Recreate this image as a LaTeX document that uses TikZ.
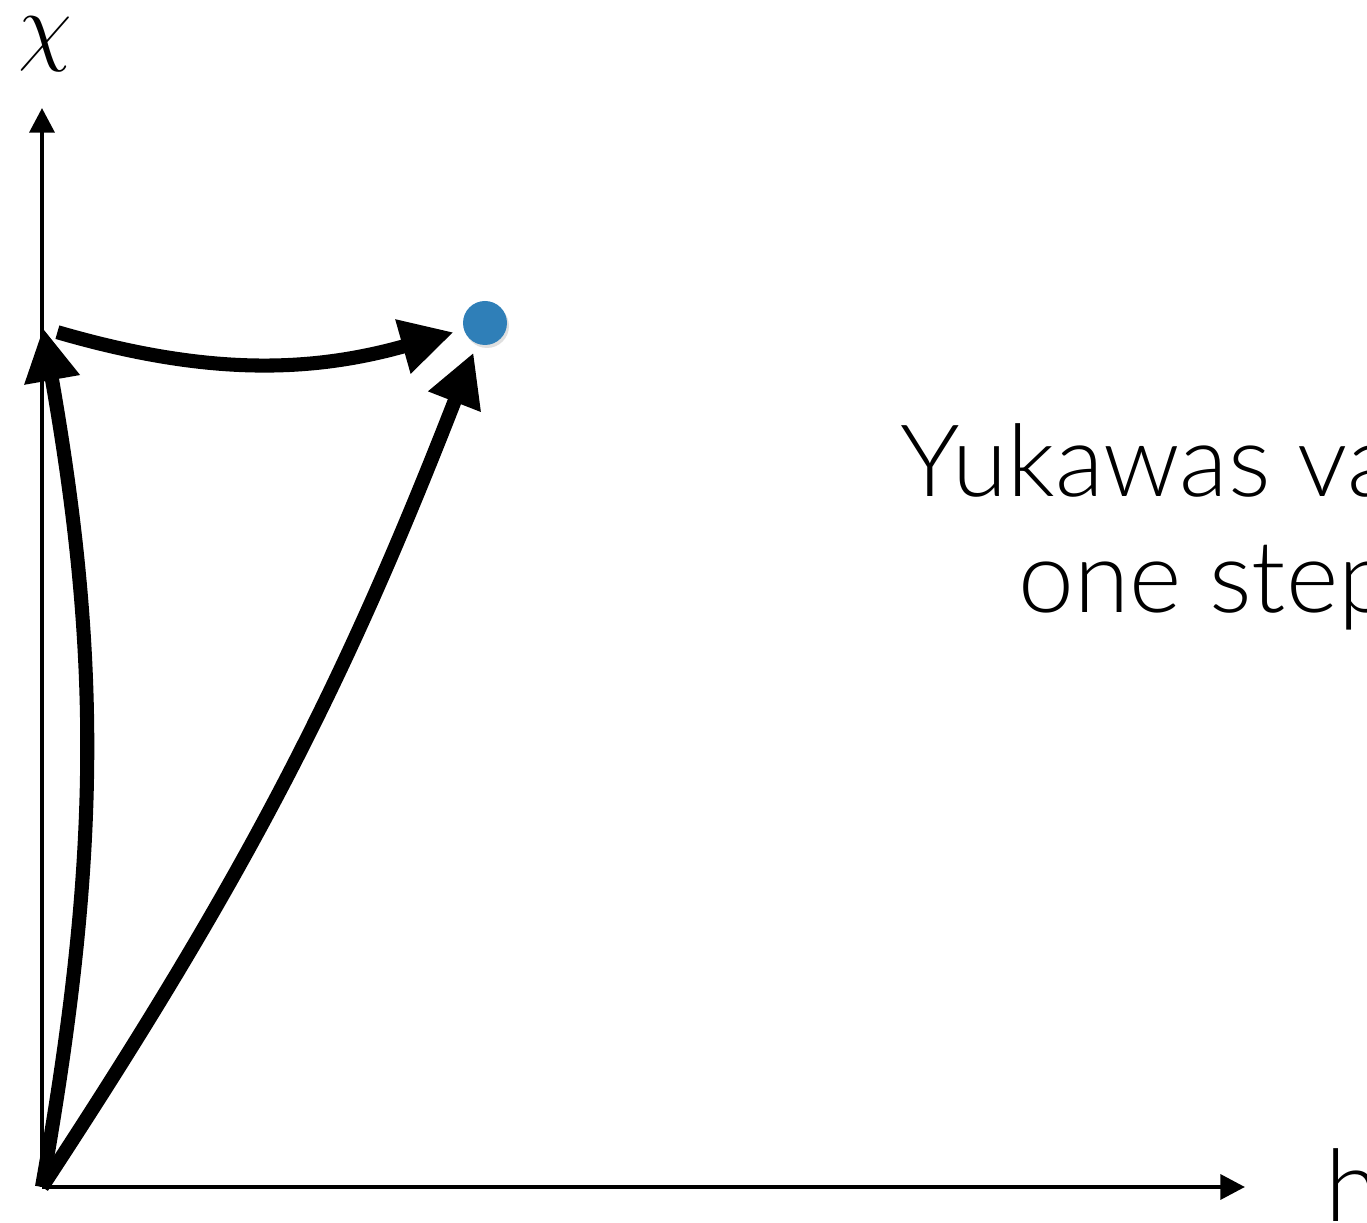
\documentclass[tikz,border=0pt]{standalone}
\usepackage{fontspec}
\usetikzlibrary{arrows.meta,shadows}
\IfFontExistsTF{Lato Light}{\newfontfamily\yukfont{Lato Light}}{\newfontfamily\yukfont{Lato}}
\definecolor{dotblue}{RGB}{47,127,184}

\begin{document}
\begin{tikzpicture}[
  axis/.style={line width=1.3pt, -{Triangle[length=7pt,width=7pt]}},
  flow/.style={line width=4pt, -{Triangle[length=15pt,width=15pt]}},
  bigtext/.style={font=\yukfont\fontsize{28.5}{34}\selectfont, anchor=base west, inner sep=0pt},
]

% --- Dimensions ---
\def\W{13.67}
\def\H{12.23}
\useasboundingbox (0,0) rectangle (\W,\H);

% --- Axes ---
\coordinate (O) at (0.42,0.36);
\coordinate (xend) at (12.45,0.36);
\coordinate (yend) at (0.42,11.15);
\draw[axis] (O) -- (xend);
\draw[axis] (O) -- (yend);

% --- Points ---
\coordinate (A) at (0.43,8.95);
\node[circle, fill=dotblue, minimum size=0.44cm, inner sep=0pt,
      drop shadow={opacity=0.25, shadow xshift=0.02cm, shadow yshift=-0.03cm}] (dot) at (4.85,9.0) {};

% --- Trajectoires ---
\draw[flow] (O) to[bend right=10] (A);
\draw[flow, shorten >=0.09cm] (O) to[bend right=6] (dot);
\draw[flow, shorten <=0.15cm, shorten >=0.1cm] (A) to[bend right=16] (dot);

% --- Etiquettes des axes ---
\node[font=\fontsize{28}{34}\selectfont, anchor=base] (chi) at (0.45,11.68) {$\chi$};
\node[bigtext] (h) at (13.25,0.01) {h};

% --- Texte ---
\node[bigtext] (yuk1) at (9.0,7.26) {Yukawas va};
\node[bigtext] (yuk2) at (10.18,6.10) {one step};

\end{tikzpicture}
\end{document}
